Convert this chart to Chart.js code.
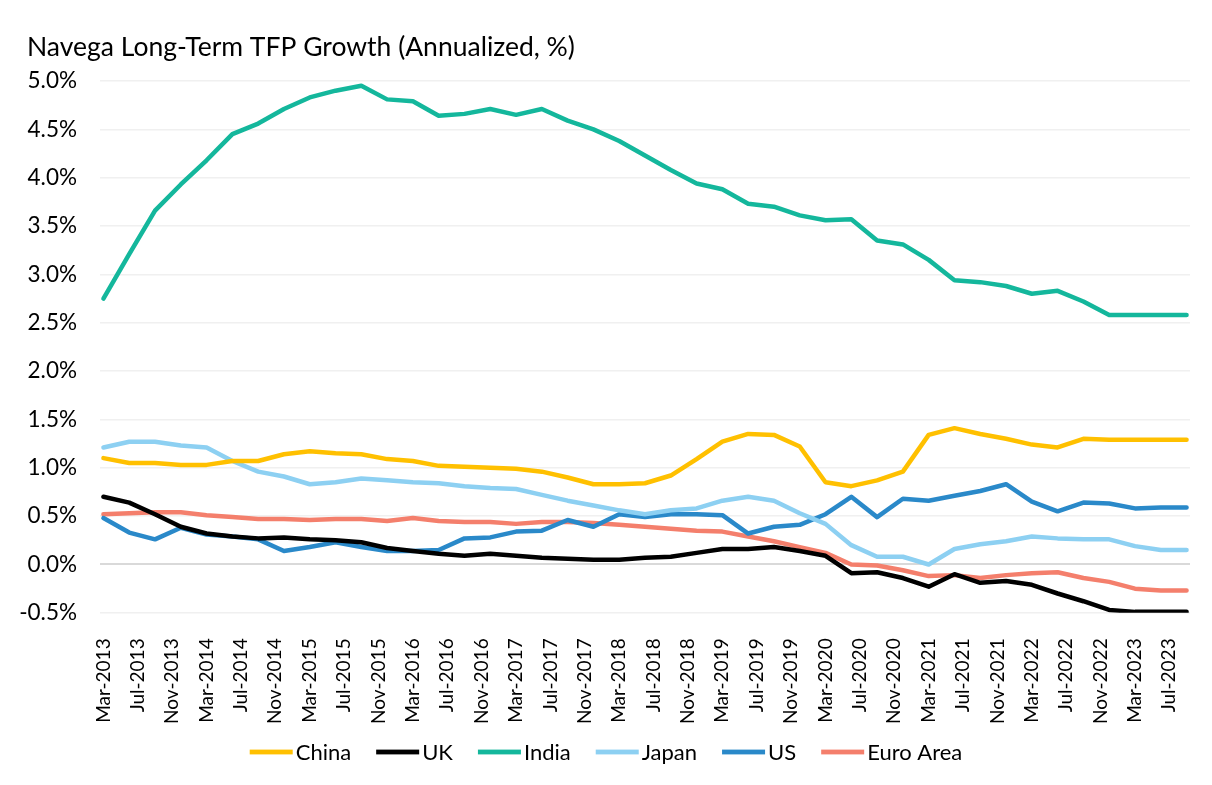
<!DOCTYPE html>
<html>
<head>
<meta charset="utf-8">
<script src="https://cdn.jsdelivr.net/npm/chart.js@4.4.1/dist/chart.umd.min.js"></script>
<style>
  html, body { margin: 0; padding: 0; background: #fff; }
  #wrap { width: 1212px; height: 785px; }
</style>
</head>
<body>
<div id="wrap"><canvas id="tfp"></canvas></div>
<script>
// quarterly observations
var quarters = [
  "Mar-2013", "Jun-2013", "Sep-2013", "Dec-2013",
  "Mar-2014", "Jun-2014", "Sep-2014", "Dec-2014",
  "Mar-2015", "Jun-2015", "Sep-2015", "Dec-2015",
  "Mar-2016", "Jun-2016", "Sep-2016", "Dec-2016",
  "Mar-2017", "Jun-2017", "Sep-2017", "Dec-2017",
  "Mar-2018", "Jun-2018", "Sep-2018", "Dec-2018",
  "Mar-2019", "Jun-2019", "Sep-2019", "Dec-2019",
  "Mar-2020", "Jun-2020", "Sep-2020", "Dec-2020",
  "Mar-2021", "Jun-2021", "Sep-2021", "Dec-2021",
  "Mar-2022", "Jun-2022", "Sep-2022", "Dec-2022",
  "Mar-2023", "Jun-2023", "Sep-2023"
];

var china = [1.10, 1.05, 1.05, 1.03, 1.03, 1.07, 1.07, 1.14, 1.17, 1.15, 1.14, 1.09, 1.07, 1.02, 1.01, 1.00,
  0.99, 0.96, 0.90, 0.83, 0.83, 0.84, 0.92, 1.09, 1.27, 1.35, 1.34, 1.22, 0.85, 0.81, 0.87, 0.96,
  1.34, 1.41, 1.35, 1.30, 1.24, 1.21, 1.30, 1.29, 1.29, 1.29, 1.29];
var uk = [0.70, 0.64, 0.52, 0.39, 0.32, 0.29, 0.27, 0.28, 0.26, 0.25, 0.23, 0.17, 0.14, 0.11, 0.09, 0.11,
  0.09, 0.07, 0.06, 0.05, 0.05, 0.07, 0.08, 0.12, 0.16, 0.16, 0.18, 0.14, 0.09, -0.09, -0.08,
  -0.14, -0.23, -0.10, -0.19, -0.17, -0.21, -0.30, -0.38, -0.47, -0.49, -0.49, -0.49];
var india = [2.75, 3.21, 3.66, 3.93, 4.18, 4.45, 4.56, 4.71, 4.83, 4.90,
  4.95, 4.81, 4.79, 4.64, 4.66, 4.71, 4.65, 4.71, 4.59, 4.50,
  4.38, 4.23, 4.08, 3.94, 3.88, 3.73, 3.70, 3.61, 3.56, 3.57,
  3.35, 3.31, 3.15, 2.94, 2.92, 2.88, 2.80, 2.83, 2.72, 2.58,
  2.58, 2.58, 2.58];
var japan = [1.21, 1.27, 1.27, 1.23, 1.21, 1.07, 0.96, 0.91, 0.83, 0.85,
  0.89, 0.87, 0.85, 0.84, 0.81, 0.79, 0.78, 0.72, 0.66, 0.61,
  0.56, 0.52, 0.56, 0.58, 0.66, 0.70, 0.66, 0.53, 0.42, 0.20,
  0.08, 0.08, 0.00, 0.16, 0.21, 0.24, 0.29, 0.27, 0.26, 0.26,
  0.19, 0.15, 0.15];
var us = [0.48, 0.33, 0.26, 0.38, 0.31, 0.29, 0.26, 0.14, 0.18, 0.23,
  0.18, 0.14, 0.14, 0.15, 0.27, 0.28, 0.34, 0.35, 0.46, 0.39,
  0.52, 0.49, 0.52, 0.52, 0.51, 0.32, 0.39, 0.41, 0.52, 0.70,
  0.49, 0.68, 0.66, 0.71, 0.76, 0.83, 0.65, 0.55, 0.64, 0.63,
  0.58, 0.59, 0.59];
var euro = [0.52, 0.53, 0.54, 0.54, 0.51, 0.49, 0.47, 0.47, 0.46, 0.47,
  0.47, 0.45, 0.48, 0.45, 0.44, 0.44, 0.42, 0.44, 0.44, 0.43,
  0.41, 0.39, 0.37, 0.35, 0.34, 0.29, 0.24, 0.18, 0.12, 0.00,
  -0.01, -0.06, -0.12, -0.11, -0.14, -0.11, -0.09, -0.08, -0.14, -0.18,
  -0.25, -0.27, -0.27];

var chartTitle = "Navega Long-Term TFP Growth (Annualized, %)";
var monthNames = ["Jan", "Feb", "Mar", "Apr", "May", "Jun", "Jul", "Aug", "Sep", "Oct", "Nov", "Dec"];

// months since Mar-2013
function monthOffset(lbl) {
  var p = lbl.split("-");
  return (parseInt(p[1]) - 2013) * 12 + monthNames.indexOf(p[0]) - 2;
}
function monthLabel(m) {
  var k = m + 2;
  return monthNames[k % 12] + "-" + (2013 + Math.floor(k / 12));
}
function pts(arr) {
  return arr.map(function (v, i) { return { x: monthOffset(quarters[i]), y: v }; });
}

var FONT = "Lato, 'Open Sans', sans-serif";

function line(label, arr, color) {
  return {
    label: label,
    data: pts(arr),
    borderColor: color,
    backgroundColor: color,
    borderWidth: 4.5,
    pointRadius: 0,
    tension: 0,
    borderCapStyle: "round",
    borderJoinStyle: "round"
  };
}

// title at the left edge + excel-style legend (long swatch, text right next to it)
var decorations = {
  id: "decorations",
  afterDraw: function (chart) {
    var c = chart.ctx;
    c.save();
    c.fillStyle = "#000";
    c.textBaseline = "middle";
    c.font = "26.5px " + FONT;
    c.fillText(chartTitle, 27, 47);

    var sw = 43, gap = 3, itemGap = 25, y = 752;
    c.font = "22px " + FONT;
    var sets = chart.data.datasets;
    var total = 0;
    sets.forEach(function (d, i) {
      total += sw + gap + c.measureText(d.label).width + (i ? itemGap : 0);
    });
    var x = (chart.width - total) / 2;
    sets.forEach(function (d) {
      c.fillStyle = d.borderColor;
      c.fillRect(x, y - 2.4, sw, 4.8);
      x += sw + gap;
      c.fillStyle = "#000";
      c.fillText(d.label, x, y + 1);
      x += c.measureText(d.label).width + itemGap;
    });
    c.restore();
  }
};

var ctx = document.getElementById("tfp").getContext("2d");
var tfpChart = new Chart(ctx, {
  type: "line",
  data: {
    datasets: [
      line("China", china, "#ffc000"),
      line("UK", uk, "#000000"),
      line("India", india, "#14b79c"),
      line("Japan", japan, "#8dd0f2"),
      line("US", us, "#2a89c9"),
      line("Euro Area", euro, "#f47f6c")
    ]
  },
  plugins: [decorations],
  options: {
    responsive: true,
    maintainAspectRatio: false,
    animation: false,
    layout: { padding: { left: 10, right: 22, top: 81, bottom: 43.5 } },
    plugins: {
      title: { display: false },
      legend: { display: false },
      tooltip: { enabled: false }
    },
    scales: {
      x: {
        type: "linear",
        min: -0.4,
        max: 126.4,
        afterBuildTicks: function (axis) {
          var t = [];
          for (var m = 0; m <= 124; m += 4) t.push({ value: m });
          axis.ticks = t;
        },
        grid: { display: false },
        border: { display: false },
        ticks: {
          autoSkip: false,
          maxRotation: 90,
          minRotation: 90,
          padding: 17.5,
          color: "#000",
          font: { family: FONT, size: 19 },
          callback: function (v) { return monthLabel(v); }
        }
      },
      y: {
        min: -0.5,
        max: 5.0,
        border: { display: false },
        afterFit: function (axis) { axis.width = 90; },
        grid: {
          drawTicks: false,
          color: function (c) { return c.tick && c.tick.value === 0 ? "#d9d9d9" : "#f0f0f0"; },
          lineWidth: function (c) { return c.tick && c.tick.value === 0 ? 2 : 1.5; }
        },
        ticks: {
          stepSize: 0.5,
          padding: 23,
          color: "#000",
          font: { family: FONT, size: 22.5 },
          callback: function (v) { return v.toFixed(1) + "%"; }
        }
      }
    }
  }
});
</script>
</body>
</html>
